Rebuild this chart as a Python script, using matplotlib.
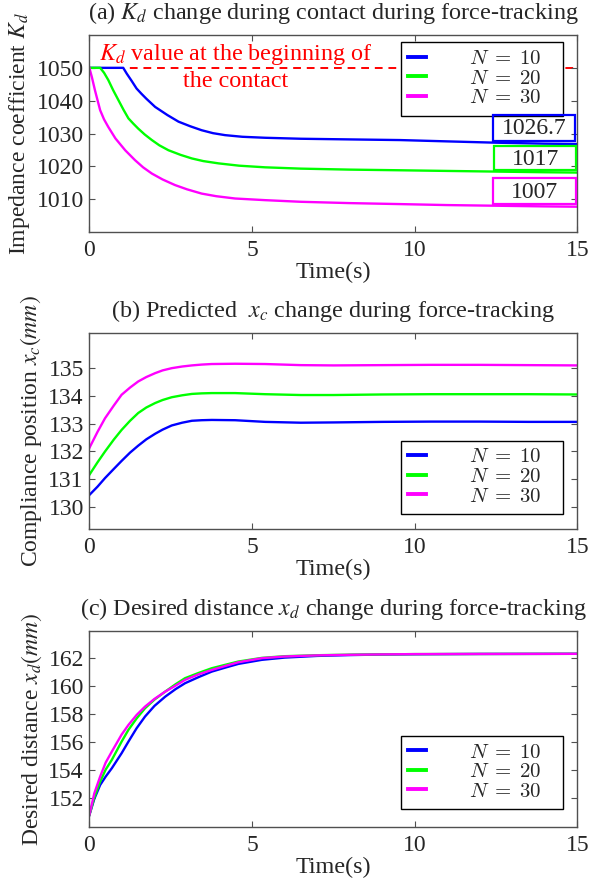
import matplotlib
matplotlib.use('Agg')
import matplotlib.pyplot as plt
from matplotlib.patches import Rectangle

plt.rcParams['font.family'] = ['Liberation Serif', 'DejaVu Serif']
plt.rcParams['mathtext.fontset'] = 'stix'

# ---------------- data ----------------
series_labels = [r'$N\;=\;10$', r'$N\;=\;20$', r'$N\;=\;30$']
series_colors = ['#0000ff', '#00ff00', '#ff00ff']
x_ticks = [0, 5, 10, 15]

# (a) Kd
kd_init = 1050
t_kd10 = [0, 0.5, 1.04, 1.15, 1.3, 1.45, 1.6, 1.75, 2.02, 2.4, 2.74, 3.1, 3.45, 3.8, 4.17, 4.7, 5.4, 6.5, 8,
          9.55, 11, 12.5, 14, 15]
kd10 = [1050, 1050, 1050, 1048.2, 1046.0, 1043.7, 1042.1, 1040.6, 1038.1, 1035.6, 1033.6, 1032.2, 1031.0, 1030.1,
        1029.5, 1029.0, 1028.7, 1028.4, 1028.2, 1028.0, 1027.6, 1027.2, 1026.9, 1026.8]
t_kd20 = [0, 0.33, 0.45, 0.58, 0.73, 0.89, 1.05, 1.2, 1.35, 1.5, 1.7, 1.92, 2.15, 2.43, 2.8, 3.15, 3.5, 3.97, 4.6,
          5.4, 6.5, 8, 9.55, 11, 12.5, 14, 15]
kd20 = [1050, 1050, 1048.5, 1046.3, 1043.2, 1040.2, 1037.2, 1034.6, 1033.0, 1031.5, 1029.7, 1028.0, 1026.4, 1024.9,
        1023.5, 1022.4, 1021.6, 1020.9, 1020.2, 1019.7, 1019.3, 1019.0, 1018.8, 1018.6, 1018.4, 1018.2, 1018.1]
t_kd30 = [0, 0.08, 0.17, 0.33, 0.45, 0.58, 0.8, 1.1, 1.4, 1.65, 1.92, 2.25, 2.63, 3.0, 3.45, 3.9, 4.48, 5.4, 6.5,
          8, 9.55, 11, 12.5, 14, 15]
kd30 = [1050, 1047.0, 1043.2, 1037.1, 1034.3, 1032.0, 1028.5, 1024.9, 1021.9, 1019.7, 1017.8, 1016.0, 1014.3,
        1013.0, 1011.7, 1010.9, 1010.2, 1009.7, 1009.2, 1008.8, 1008.5, 1008.2, 1008.0, 1007.8, 1007.7]
kd_final_labels = ['1026.7', '1017', '1007']
kd_yticks = [1010, 1020, 1030, 1040, 1050]

# (b) xc
t_b = [0, 0.25, 0.48, 0.75, 0.99, 1.25, 1.5, 1.75, 2.02, 2.25, 2.53, 2.85, 3.15, 3.45, 3.76, 4.48, 5.4, 6.5, 7.5,
       9, 10.5, 12, 13.5, 15]
xc10 = [130.42, 130.72, 131.03, 131.36, 131.65, 131.95, 132.2, 132.43, 132.63, 132.78, 132.93, 133.03, 133.1,
        133.12, 133.13, 133.12, 133.06, 133.03, 133.04, 133.06, 133.07, 133.07, 133.06, 133.06]
xc20 = [131.15, 131.6, 131.99, 132.42, 132.77, 133.1, 133.38, 133.58, 133.74, 133.85, 133.95, 134.02, 134.07,
        134.09, 134.1, 134.1, 134.06, 134.03, 134.03, 134.05, 134.06, 134.06, 134.06, 134.05]
xc30 = [132.12, 132.7, 133.19, 133.65, 134.04, 134.3, 134.52, 134.68, 134.82, 134.92, 135.0, 135.06, 135.1,
        135.13, 135.15, 135.16, 135.15, 135.11, 135.1, 135.11, 135.12, 135.12, 135.11, 135.1]
xc_yticks = [130, 131, 132, 133, 134, 135]

# (c) xd
t_c = [0, 0.15, 0.33, 0.5, 0.69, 0.99, 1.2, 1.45, 1.71, 2.0, 2.33, 2.65, 2.94, 3.35, 3.76, 4.2, 4.58, 5.3, 6, 7,
       8, 9, 10, 12, 15]
xd10 = [150.76, 151.9, 152.9, 153.5, 154.1, 155.17, 156.0, 156.95, 157.79, 158.55, 159.21, 159.75, 160.17, 160.6,
        161.0, 161.3, 161.55, 161.84, 162.0, 162.12, 162.18, 162.22, 162.24, 162.26, 162.27]
xd20 = [150.76, 152.0, 153.14, 154.0, 154.7, 156.0, 156.84, 157.65, 158.38, 159.0, 159.57, 160.1, 160.53, 160.9,
        161.24, 161.5, 161.72, 161.98, 162.1, 162.17, 162.21, 162.23, 162.25, 162.26, 162.27]
xd30 = [150.76, 152.3, 153.5, 154.5, 155.29, 156.5, 157.19, 157.9, 158.5, 159.05, 159.57, 160.0, 160.41, 160.8,
        161.12, 161.42, 161.67, 161.96, 162.08, 162.16, 162.2, 162.23, 162.25, 162.26, 162.27]
xd_yticks = [152, 154, 156, 158, 160, 162]

# ---------------- drawing ----------------
W, H = 591, 883
fig = plt.figure(figsize=(W / 100, H / 100), dpi=100)

FS = 17
AX_COL = '#505050'
TXT_COL = '#262626'
AX_L, AX_R = 89.4, 577.4


def px_axes(left, top, right, bottom):
    return fig.add_axes([left / W, 1 - bottom / H, (right - left) / W, (bottom - top) / H])


def style(ax, yticks, ylim, title, ylabel):
    ax.set_xlim(0, 15)
    ax.set_ylim(*ylim)
    ax.set_xticks(x_ticks)
    ax.set_yticks(yticks)
    ax.tick_params(axis='both', direction='in', length=4, width=0.8, top=True, right=True,
                   labelsize=FS, colors=AX_COL, labelcolor=TXT_COL)
    ax.tick_params(axis='x', pad=6)
    ax.tick_params(axis='y', pad=4)
    for s in ax.spines.values():
        s.set_color(AX_COL)
        s.set_linewidth(1.0)
    ax.set_title(title, fontsize=FS + 0.4, color=TXT_COL, pad=11.5)
    ax.set_xlabel('Time(s)', fontsize=FS + 0.4, color=TXT_COL, labelpad=0.5)
    ax.set_ylabel(ylabel, fontsize=FS, color=TXT_COL, labelpad=3)


def legend(ax, loc, y0, h):
    x0 = (400.7 - AX_L) / (AX_R - AX_L)
    w = (563.3 - 400.7) / (AX_R - AX_L)
    leg = ax.legend(loc=loc, bbox_to_anchor=(x0, y0, w, h), mode='expand', fontsize=15, frameon=True,
                    fancybox=False, framealpha=1, edgecolor='black', handlelength=0.85, handletextpad=2.1,
                    labelspacing=0.0, borderpad=0.35, borderaxespad=0)
    leg.get_frame().set_linewidth(1.0)
    for txt in leg.get_texts():
        txt.set_math_fontfamily('cm')
        txt.set_color(TXT_COL)
    for ln in leg.get_lines():
        ln.set_linewidth(2.8)
    return leg


# panel (a)
axa = px_axes(AX_L, 35, AX_R, 232)
axa.axhline(kd_init, color='red', ls=(0, (4, 3)), lw=1.4, zorder=1)
for t, y, c, lab in zip([t_kd10, t_kd20, t_kd30], [kd10, kd20, kd30], series_colors, series_labels):
    axa.plot(t, y, color=c, lw=1.7, label=lab, zorder=2)
style(axa, kd_yticks, (1000, 1060), '(a) $K_d$ change during contact during force-tracking',
      'Impedance coefficient $K_d$')
legend(axa, 'upper right', 0.0, 0.963)
axa.text(4.5, 1050.2, '$K_d$ value at the beginning of\nthe contact', color='red', fontsize=FS + 0.4,
         ha='center', va='center', linespacing=1.28, zorder=3)
box_specs = [(12.41, 1027.8, 2.51, 7.8), (12.45, 1018.8, 2.50, 7.35), (12.41, 1008.5, 2.54, 7.8)]
for (x0, y0, w, h), c, s in zip(box_specs, series_colors, kd_final_labels):
    axa.add_patch(Rectangle((x0, y0), w, h, fill=False, edgecolor=c, lw=1.6, zorder=6, clip_on=False))
    axa.text(x0 + w / 2, y0 + h / 2 - 0.3, s, fontsize=FS, color=TXT_COL, ha='center', va='center', zorder=7)

# panel (b)
axb = px_axes(AX_L, 333.3, AX_R, 529)
for y, c, lab in zip([xc10, xc20, xc30], series_colors, series_labels):
    axb.plot(t_b, y, color=c, lw=1.7, label=lab)
style(axb, xc_yticks, (129.19, 136.26), '(b) Predicted  $x_c$ change during force-tracking',
      'Compliance position $x_c(mm)$')
legend(axb, 'lower right', 0.077, 0.9)

# panel (c)
axc = px_axes(AX_L, 631, AX_R, 827)
for y, c, lab in zip([xd10, xd20, xd30], series_colors, series_labels):
    axc.plot(t_c, y, color=c, lw=1.7, label=lab)
style(axc, xd_yticks, (149.9, 163.9), '(c) Desired distance $x_d$ change during force-tracking',
      'Desired distance $x_d(mm)$')
legend(axc, 'lower right', 0.092, 0.9)

fig.savefig('out.png', dpi=100)
